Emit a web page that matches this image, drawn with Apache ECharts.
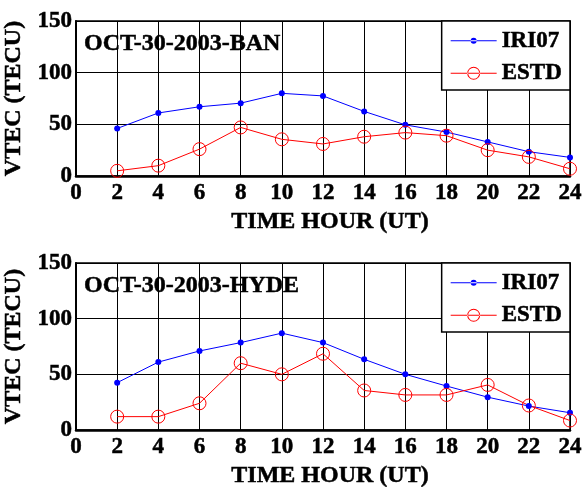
<!DOCTYPE html>
<html>
<head>
<meta charset="utf-8">
<script src="https://cdn.jsdelivr.net/npm/echarts@6/dist/echarts.min.js"></script>
<style>
  html, body { margin: 0; padding: 0; background: #fff; }
  #chart { width: 583px; height: 487px; }
</style>
</head>
<body>
<div id="chart"></div>
<script>
// hours (UT)
let hours = [2, 4, 6, 8, 10, 12, 14, 16, 18, 20, 22, 24];
// BAN station
let banIri = [46, 61, 67, 70.5, 80, 77.5, 62.5, 49.5, 42.5, 33, 23.5, 18];
let banEstd = [5, 10, 26, 47, 35.5, 31, 38, 42, 39, 25, 18.5, 7];
// HYDE station
let hydeIri = [42.5, 61, 71, 78.5, 87, 78.5, 63.5, 50, 39.5, 29.5, 21.5, 15.5];
let hydeEstd = [12, 12, 24, 60, 50, 68.5, 35.5, 31.5, 31.5, 40.5, 22, 8.5];
let stations = ["OCT-30-2003-BAN", "OCT-30-2003-HYDE"];

let font = "'Liberation Serif', 'Times New Roman', serif";
// 稍微加粗文字
let txt = {fontFamily: font, fontWeight: 'bold', color: '#000', textBorderColor: '#000', textBorderWidth: 0.5};

// legend icons: line + small dot / line + ring
let iconIri = 'path://M0 6.5H46V7.5H0Z M20 7A3 3 0 1 0 26 7A3 3 0 1 0 20 7Z';
let iconEstd = 'path://M0 6.5H46V7.5H0Z M29.5 7A6.5 6.5 0 1 0 16.5 7A6.5 6.5 0 1 0 29.5 7Z M28.5 7A5.5 5.5 0 1 1 17.5 7A5.5 5.5 0 1 1 28.5 7Z';

function pairs(ys) {
    return hours.map(function (h, i) { return [h, ys[i]]; });
}

let grids = [
    {left: 76, top: 21, width: 494, height: 155},
    {left: 76, top: 263, width: 494, height: 167}
];

let xAxes = [], yAxes = [], series = [], titles = [], legends = [];
grids.forEach(function (g, i) {
    g.show = true;
    g.outerBoundsMode = 'none';
    g.containLabel = false;
    g.borderColor = '#000';
    g.borderWidth = 1.5;
    g.backgroundColor = '#fff';
    xAxes.push({
        type: 'value', gridIndex: i, min: 0, max: 24, interval: 2,
        name: 'TIME HOUR (UT)', nameLocation: 'middle', nameGap: 34,
        nameTextStyle: Object.assign({fontSize: 24, padding: [0, 0, 0, 14]}, txt),
        axisLine: {lineStyle: {color: '#000', width: 2.5}},
        axisTick: {show: false},
        axisLabel: Object.assign({fontSize: 23, margin: 6}, txt),
        splitLine: {lineStyle: {color: '#000', width: 1}}
    });
    yAxes.push({
        type: 'value', gridIndex: i, min: 0, max: 150, interval: 50,
        name: 'VTEC (TECU)', nameLocation: 'middle', nameGap: 46,
        nameTextStyle: Object.assign({fontSize: 24}, txt),
        axisLine: {lineStyle: {color: '#000', width: 2}},
        axisTick: {show: false},
        axisLabel: Object.assign({fontSize: 23, margin: 4}, txt),
        splitLine: {lineStyle: {color: '#000', width: 1}}
    });
    titles.push({
        text: stations[i], left: 84, top: g.top + 11, padding: 0,
        textStyle: Object.assign({fontSize: 24}, txt)
    });
    legends.push({
        orient: 'vertical', right: 13, top: g.top,
        padding: [8, 8, 5, 9], itemGap: 9, itemWidth: 46, itemHeight: 14,
        symbolKeepAspect: true,
        borderColor: '#000', borderWidth: 1.5, backgroundColor: '#fff',
        textStyle: Object.assign({fontSize: 23}, txt),
        data: [
            {name: 'IRI07', icon: iconIri, itemStyle: {color: '#0000ff', borderWidth: 0}},
            {name: 'ESTD', icon: iconEstd, itemStyle: {color: '#ff0000', borderWidth: 0}}
        ]
    });
});

let sets = [[banIri, banEstd], [hydeIri, hydeEstd]];
sets.forEach(function (s, i) {
    series.push({
        name: 'IRI07', type: 'line', xAxisIndex: i, yAxisIndex: i,
        data: pairs(s[0]),
        symbol: 'circle', symbolSize: 6,
        lineStyle: {width: 1, color: '#0000ff'}, itemStyle: {color: '#0000ff'}
    });
    series.push({
        name: 'ESTD', type: 'line', xAxisIndex: i, yAxisIndex: i,
        data: pairs(s[1]),
        symbol: 'circle', symbolSize: 13,
        lineStyle: {width: 1, color: '#ff0000'},
        itemStyle: {color: 'transparent', borderColor: '#ff0000', borderWidth: 1}
    });
});

let myChart = echarts.init(document.getElementById('chart'));
myChart.setOption({
    animation: false,
    grid: grids,
    xAxis: xAxes,
    yAxis: yAxes,
    title: titles,
    legend: legends,
    series: series
});
</script>
</body>
</html>
